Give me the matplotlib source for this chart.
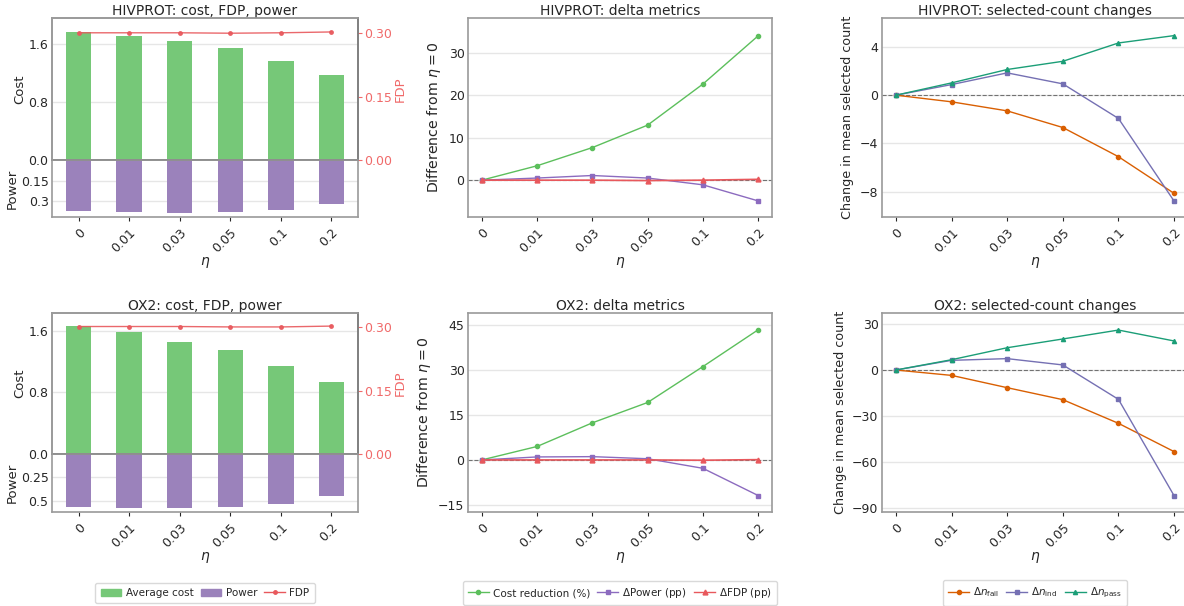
import numpy as np
import matplotlib
matplotlib.use('Agg')
import matplotlib.pyplot as plt
from matplotlib.patches import Patch
from matplotlib.lines import Line2D

# eta grid used in both datasets
eta_labels = ['0', '0.01', '0.03', '0.05', '0.1', '0.2']

# HIVPROT
hiv_cost = [1.761, 1.708, 1.640, 1.545, 1.366, 1.172]
hiv_fdp = [0.301, 0.301, 0.301, 0.300, 0.301, 0.303]
hiv_power = [0.373, 0.378, 0.384, 0.378, 0.362, 0.324]
hiv_cost_red = [0.0, 3.4, 7.7, 13.0, 22.7, 34.1]
hiv_dpower = [0.0, 0.5, 1.1, 0.5, -1.1, -4.9]
hiv_dfdp = [0.0, 0.0, 0.0, -0.1, 0.0, 0.2]
hiv_dn_fail = [0.0, -0.55, -1.30, -2.68, -5.10, -8.14]
hiv_dn_ind = [0.0, 0.88, 1.85, 0.94, -1.93, -8.78]
hiv_dn_pass = [0.0, 1.02, 2.13, 2.81, 4.33, 4.94]

# OX2
ox_cost = [1.660, 1.582, 1.453, 1.349, 1.141, 0.934]
ox_fdp = [0.302, 0.302, 0.302, 0.301, 0.301, 0.303]
ox_power = [0.565, 0.575, 0.576, 0.569, 0.537, 0.446]
ox_cost_red = [0.0, 4.5, 12.4, 19.2, 31.2, 43.5]
ox_dpower = [0.0, 1.0, 1.1, 0.4, -2.8, -11.9]
ox_dfdp = [0.0, 0.0, 0.0, 0.0, -0.1, 0.1]
ox_dn_fail = [0.0, -3.5, -11.5, -19.3, -34.7, -53.1]
ox_dn_ind = [0.0, 6.3, 7.4, 3.3, -19.1, -81.8]
ox_dn_pass = [0.0, 6.7, 14.5, 20.2, 26.0, 18.9]

datasets = [
    dict(name='HIVPROT', cost=hiv_cost, fdp=hiv_fdp, power=hiv_power,
         cost_red=hiv_cost_red, dpower=hiv_dpower, dfdp=hiv_dfdp,
         fail=hiv_dn_fail, ind=hiv_dn_ind, passed=hiv_dn_pass,
         cost_top=1.96, cost_ticks=[0, 0.8, 1.6], fdp_top=0.336,
         pow_bot=0.416, pow_ticks=[0.15, 0.3],
         d_lim=(-8.7, 38.3), d_ticks=[0, 10, 20, 30],
         n_lim=(-10.1, 6.4), n_ticks=[-8, -4, 0, 4]),
    dict(name='OX2', cost=ox_cost, fdp=ox_fdp, power=ox_power,
         cost_red=ox_cost_red, dpower=ox_dpower, dfdp=ox_dfdp,
         fail=ox_dn_fail, ind=ox_dn_ind, passed=ox_dn_pass,
         cost_top=1.83, cost_ticks=[0, 0.8, 1.6], fdp_top=0.334,
         pow_bot=0.622, pow_ticks=[0.25, 0.5],
         d_lim=(-17.4, 49.1), d_ticks=[-15, 0, 15, 30, 45],
         n_lim=(-92.4, 37.1), n_ticks=[-90, -60, -30, 0, 30]),
]

BAR_GREEN = '#76c878'
BAR_PURPLE = '#9b82bb'
FDP_RED = '#e8585c'
FDP_TXT = '#f06a6a'
LINE_GREEN = '#5cbf5c'
LINE_PURPLE = '#8c6bbf'
C_FAIL, C_IND, C_PASS = '#d95f02', '#7570b3', '#1b9e77'
SPINE = '#9a9a9a'
GRID = '#e6e6e6'
TXT = '#262626'

plt.rcParams['font.family'] = 'DejaVu Sans'
plt.rcParams['text.color'] = TXT
plt.rcParams['axes.labelcolor'] = TXT
plt.rcParams['xtick.color'] = TXT
plt.rcParams['ytick.color'] = TXT

W, H = 1184, 606
fig = plt.figure(figsize=(W / 100, H / 100), dpi=100)


def px_axes(x0, y0, x1, y1):
    # axes placed by pixel box (top-left origin)
    return fig.add_axes([x0 / W, 1 - y1 / H, (x1 - x0) / W, (y1 - y0) / H])


def style(ax, grid=True):
    for s in ax.spines.values():
        s.set_color(SPINE)
        s.set_linewidth(1.2)
    if grid:
        ax.grid(axis='y', color=GRID, lw=1)
    ax.set_axisbelow(True)
    ax.tick_params(axis='y', length=0, labelsize=9, pad=2.5)
    ax.tick_params(axis='x', length=3, width=0.8, color=TXT, labelsize=9)


def eta_axis(ax):
    ax.set_xticks(x)
    ax.set_xticklabels(eta_labels, rotation=45, ha='right', rotation_mode='anchor')
    ax.set_xlabel(r'$\eta$', fontsize=10, labelpad=0)


x = np.arange(len(eta_labels))
cols = [(52, 358), (468, 772), (882, 1188)]
rows = [(18, 160, 217), (313, 454, 512)]

for d, (top, mid, bot) in zip(datasets, rows):
    # cost bars with FDP on a twin axis, power hanging below
    ax_c = px_axes(cols[0][0], top, cols[0][1], mid)
    ax_p = px_axes(cols[0][0], mid, cols[0][1], bot)
    ax_c.bar(x, d['cost'], width=0.5, color=BAR_GREEN)
    ax_c.set_ylim(0, d['cost_top'])
    ax_c.set_yticks(d['cost_ticks'])
    ax_c.set_yticklabels(['{:.1f}'.format(t) for t in d['cost_ticks']])
    ax_c.set_ylabel('Cost', fontsize=9.5)
    ax_c.set_title('%s: cost, FDP, power' % d['name'], fontsize=10, pad=1.5)
    style(ax_c)
    ax_c.set_xticks(x)
    ax_c.tick_params(axis='x', length=0, labelbottom=False)
    ax_c.spines['bottom'].set_color('#555555')

    ax_f = ax_c.twinx()
    ax_f.plot(x, d['fdp'], '-o', color=FDP_RED, lw=1, ms=2.5, alpha=0.9)
    ax_f.set_ylim(0, d['fdp_top'])
    ax_f.set_yticks([0, 0.15, 0.30])
    ax_f.set_yticklabels(['0.00', '0.15', '0.30'])
    ax_f.tick_params(axis='y', colors=FDP_TXT, length=3, width=0.8, labelsize=9, pad=1.5)
    ax_f.set_ylabel('FDP', color=FDP_TXT, fontsize=9.5, labelpad=1)
    for s in ax_f.spines.values():
        s.set_color(SPINE)
        s.set_linewidth(1.2)
    ax_f.spines['right'].set_color('#7a7a7a')

    ax_p.bar(x, d['power'], width=0.5, color=BAR_PURPLE)
    ax_p.set_ylim(d['pow_bot'], 0)
    ax_p.set_yticks(d['pow_ticks'])
    ax_p.set_yticklabels(['{:g}'.format(t) for t in d['pow_ticks']])
    ax_p.set_ylabel('Power', fontsize=9.5)
    style(ax_p)
    ax_p.spines['top'].set_color('#555555')
    ax_p.set_xlim(ax_c.get_xlim())
    eta_axis(ax_p)
    ax_c.yaxis.set_label_coords(-26 / 306, 0.5)
    ax_p.yaxis.set_label_coords(-33 / 306, 0.5)

    # deltas relative to eta = 0
    ax_d = px_axes(cols[1][0], top, cols[1][1], bot)
    ax_d.axhline(0, color='#555555', ls='--', lw=0.8, alpha=0.8)
    ax_d.plot(x, d['cost_red'], '-o', color=LINE_GREEN, lw=1, ms=3)
    ax_d.plot(x, d['dpower'], '-s', color=LINE_PURPLE, lw=1, ms=3)
    ax_d.plot(x, d['dfdp'], '-^', color=FDP_RED, lw=1.2, ms=3.5)
    ax_d.set_xlim(-0.25, 5.25)
    ax_d.set_ylim(*d['d_lim'])
    ax_d.set_yticks(d['d_ticks'])
    ax_d.set_title('%s: delta metrics' % d['name'], fontsize=10, pad=1.5)
    ax_d.set_ylabel(r'Difference from $\eta = 0$', fontsize=10.2)
    style(ax_d)
    eta_axis(ax_d)

    # selected-count changes
    ax_n = px_axes(cols[2][0], top, cols[2][1], bot)
    ax_n.axhline(0, color='#555555', ls='--', lw=0.8, alpha=0.8)
    ax_n.plot(x, d['fail'], '-o', color=C_FAIL, lw=1, ms=3)
    ax_n.plot(x, d['ind'], '-s', color=C_IND, lw=1, ms=3)
    ax_n.plot(x, d['passed'], '-^', color=C_PASS, lw=1, ms=3)
    ax_n.set_xlim(-0.25, 5.25)
    ax_n.set_ylim(*d['n_lim'])
    ax_n.set_yticks(d['n_ticks'])
    ax_n.set_yticklabels(['\u2212%d' % -t if t < 0 else '%d' % t for t in d['n_ticks']])
    ax_n.set_title('%s: selected-count changes' % d['name'], fontsize=10, pad=1.5)
    ax_n.set_ylabel('Change in mean selected count', fontsize=9.2)
    style(ax_n)
    eta_axis(ax_n)

# shared legends under each column
leg_kw = dict(loc='center', ncol=3, fontsize=7.5, frameon=True, handlelength=2.0,
              handletextpad=0.4, columnspacing=0.7, borderpad=0.5, fancybox=True)
h1 = [Patch(color=BAR_GREEN), Patch(color=BAR_PURPLE),
      Line2D([], [], color=FDP_RED, marker='o', ms=2.5, lw=1)]
h2 = [Line2D([], [], color=LINE_GREEN, marker='o', ms=3, lw=1),
      Line2D([], [], color=LINE_PURPLE, marker='s', ms=3, lw=1),
      Line2D([], [], color=FDP_RED, marker='^', ms=3.5, lw=1)]
h3 = [Line2D([], [], color=C_FAIL, marker='o', ms=3, lw=1),
      Line2D([], [], color=C_IND, marker='s', ms=3, lw=1),
      Line2D([], [], color=C_PASS, marker='^', ms=3, lw=1)]
labels = [['Average cost', 'Power', 'FDP'],
          ['Cost reduction (%)', r'$\Delta$Power (pp)', r'$\Delta$FDP (pp)'],
          [r'$\Delta n_{\rm fail}$', r'$\Delta n_{\rm ind}$', r'$\Delta n_{\rm pass}$']]
centers = [205, 620, 1035]
for hs, ls, cx in zip([h1, h2, h3], labels, centers):
    lg = fig.legend(hs, ls, bbox_to_anchor=(cx / W, 1 - 593 / H), **leg_kw)
    lg.get_frame().set_edgecolor('#d0d0d0')

fig.savefig('out.png', dpi=100)
